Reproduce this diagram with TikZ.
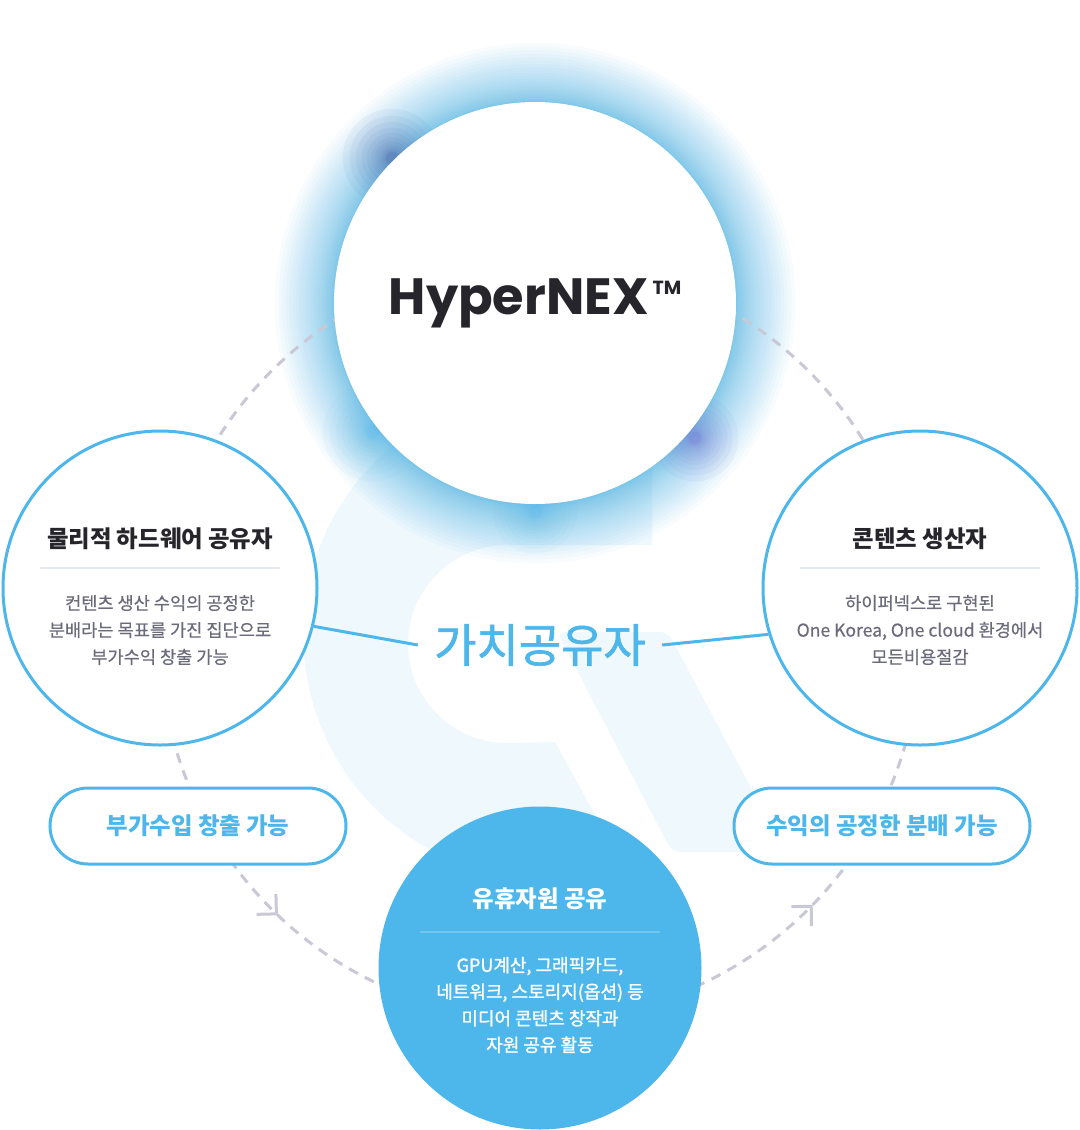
\documentclass[tikz,border=0pt]{standalone}
\usepackage{fontspec}
\setmainfont{Noto Sans CJK KR}
\newfontfamily\popfont{Poppins}
\newfontfamily\midfont[FakeBold=1.4]{Noto Sans CJK KR}
\newfontfamily\bodyfont[FakeBold=0.4]{Noto Sans CJK KR}
\usetikzlibrary{arrows.meta,decorations.markings}

\definecolor{skyblue}{HTML}{4DB6EA}
\definecolor{navyglow}{HTML}{3E4F9E}
\definecolor{violetglow}{HTML}{6B63D0}
\definecolor{ringgrey}{HTML}{C9C8D7}
\definecolor{titlegrey}{HTML}{25252B}
\definecolor{bodygrey}{HTML}{6B6B7B}
\definecolor{rulegrey}{HTML}{E3EAF2}
\definecolor{rulesky}{HTML}{74C6F0}
\definecolor{paleshape}{HTML}{EFF8FD}

\tikzset{
  member/.style={circle, draw=skyblue, line width=1.5pt, fill=white, minimum size=157pt, inner sep=0pt},
  pill/.style={draw=skyblue, line width=1.5pt, fill=white, rounded corners=19pt, minimum width=148pt,
    minimum height=38pt, text=skyblue, font=\bfseries\fontsize{11.7}{14}\selectfont},
  headtext/.style={font=\bfseries\fontsize{11.7}{14}\selectfont, text=titlegrey},
  bodytext/.style={align=center, font=\bodyfont\fontsize{8.8}{13.5}\selectfont, text=bodygrey},
  ring/.style={ringgrey, line width=1.5pt, dash pattern=on 5pt off 4pt},
  link/.style={skyblue, line width=1.5pt}
}

\begin{document}
\begin{tikzpicture}[x=0.5pt, y=-0.5pt]
  \useasboundingbox (0,0) rectangle (1080,1130);
  \fill[white] (0,0) rectangle (1080,1130);

  \fill[paleshape] (652,390) -- (652,545) -- (507,545) arc[start angle=270, end angle=90, radius=99]
    -- (555,742) -- (624,868) arc[start angle=72, end angle=270, radius=245] -- cycle;
  \fill[paleshape, rounded corners=4] (557,632) -- (668,632) -- (785,852) -- (672,852) -- cycle;

  \foreach \i in {0,...,30}
    \fill[skyblue, opacity=0.04] (535,303) circle[radius=201+0.066*\i*\i];
  \foreach \i in {0,...,12}
    \fill[skyblue, opacity=0.04] (372,432) circle[radius=6+0.3*\i*\i];
  \foreach \i in {0,...,12}
    \fill[skyblue, opacity=0.04] (535,512) circle[radius=6+0.25*\i*\i];
  \foreach \i in {0,...,12}
    \fill[navyglow, opacity=0.05] (392,158) circle[radius=6+0.3*\i*\i];
  \foreach \i in {0,...,12}
    \fill[violetglow, opacity=0.05] (695,438) circle[radius=6+0.26*\i*\i];

  \coordinate (hub) at (540,640);
  \draw[ring, postaction={decorate}, decoration={markings,
      mark=at position 0.0456 with {\arrow{Straight Barb[length=7pt, width=14pt]}},
      mark=at position 0.294 with {\arrow{Straight Barb[length=7pt, width=14pt]}}}]
    (hub) ++(150:380) arc[start angle=150, end angle=-210, radius=380];

  \node[circle, fill=white, minimum size=201pt] (core) at (535,303)
    {\popfont\bfseries\fontsize{25.5}{30}\selectfont\color{titlegrey}\raisebox{-2pt}{HyperNEX}\hspace{2pt}\raisebox{8pt}{\fontsize{9.5}{10}\selectfont TM}};

  \node[member] (lc) at (160,588) {};
  \node[member] (rc) at (920,588) {};
  \node[member, fill=skyblue, minimum size=160pt] (bc) at (540,968) {};

  \node[pill] (lp) at (198,826) {부가수입 창출 가능};
  \node[pill] (rp) at (882,826) {수익의 공정한 분배 가능};

  \node[font=\midfont\fontsize{23}{27}\selectfont, text=skyblue, inner sep=8pt] (value) at (540,645) {가치공유자};
  \draw[link] (lc.-14) -- (value.west);
  \draw[link] (value.east) -- (rc.197);

  \node[headtext] (lt) at (160,539) {물리적 하드웨어 공유자};
  \draw[rulegrey, line width=1pt] (40,568) -- (280,568);
  \node[bodytext] (lb) at (160,630) {컨텐츠 생산 수익의 공정한\\분배라는 목표를 가진 집단으로\\부가수익 창출 가능};

  \node[headtext] (rt) at (920,539) {콘텐츠 생산자};
  \draw[rulegrey, line width=1pt] (800,568) -- (1040,568);
  \node[bodytext] (rb) at (920,630) {하이퍼넥스로 구현된\\One Korea, One cloud 환경에서\\모든비용절감};

  \node[headtext, text=white] (bt) at (540,899) {유휴자원 공유};
  \draw[rulesky, line width=1pt] (420,932) -- (660,932);
  \node[bodytext, text=white, font=\midfont\fontsize{9}{13.3}\selectfont] (bb) at (540,1005)
    {GPU계산, 그래픽카드,\\네트워크, 스토리지(옵션) 등\\미디어 콘텐츠 창작과\\자원 공유 활동};
\end{tikzpicture}
\end{document}
